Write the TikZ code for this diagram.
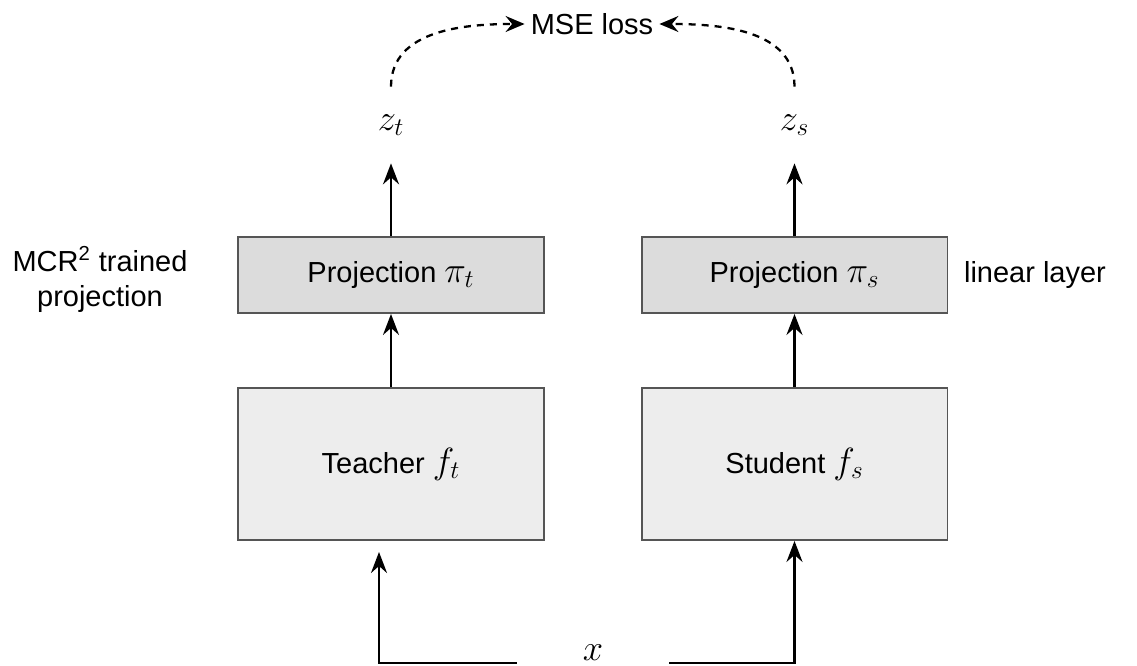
\documentclass[tikz,border=0pt]{standalone}
\usepackage{fontspec}
\setmainfont{Liberation Sans}
\usetikzlibrary{arrows.meta}
\definecolor{projgray}{HTML}{DCDCDC}
\definecolor{netgray}{HTML}{EDEDED}
\definecolor{edgegray}{HTML}{555555}
\newcommand{\symb}[1]{{\fontsize{20.5}{24}\selectfont$#1$}}
\tikzset{
  netbox/.style={draw=edgegray,line width=1.1pt,fill=netgray,minimum width=6.12cm,minimum height=3.04cm},
  projbox/.style={draw=edgegray,line width=1.1pt,fill=projgray,minimum width=6.12cm,minimum height=1.52cm},
  outvar/.style={minimum height=1.52cm,inner sep=0pt},
  flow/.style={line width=1.4pt,-{Stealth[length=4.2mm,width=3.2mm,inset=1.4mm]}},
  lossflow/.style={line width=1.3pt,dash pattern=on 4pt off 3.4pt,-{Stealth[length=3.8mm,width=3.2mm,inset=1.3mm]}}
}
\begin{document}
\begin{tikzpicture}[x=0.02cm,y=-0.02cm,font=\fontsize{16.5}{20}\selectfont]
      \useasboundingbox (0,0) rectangle (1137,666);
      \node[netbox] (teacher) at (391,464) {Teacher \symb{f_t}};
      \node[netbox] (student) at (794.5,464) {Student \symb{f_s}};
      \node[projbox] (projt) at (391,275) {Projection \symb{\pi_t}};
      \node[projbox] (projs) at (794.5,275) {Projection \symb{\pi_s}};
      \node[outvar] (zt) at (391,125) {\symb{z_t}};
      \node[outvar] (zs) at (794.5,125) {\symb{z_s}};
      \node (mse) at (592,24) {MSE loss};
      \node[minimum width=3.04cm,inner sep=0pt] (x) at (593,653) {\symb{x}};
      \node[align=center] (ltext) at (100,279) {MCR\textsuperscript{2} trained\\projection};
      \node (rtext) at (1035,275) {linear layer};
      \coordinate (tin) at (379,552);
      \draw[flow] ([yshift=-0.2cm]x.west) -| (tin);
      \draw[flow] ([yshift=-0.2cm]x.east) -| (student.south);
      \draw[flow] (teacher) -- (projt);
      \draw[flow] (student) -- (projs);
      \draw[flow] (projt) -- (zt);
      \draw[flow] (projs) -- (zs);
      \draw[lossflow] (zt.north) to[out=90,in=180] (mse.west);
      \draw[lossflow] (zs.north) to[out=90,in=0] (mse.east);
    \end{tikzpicture}
\end{document}
